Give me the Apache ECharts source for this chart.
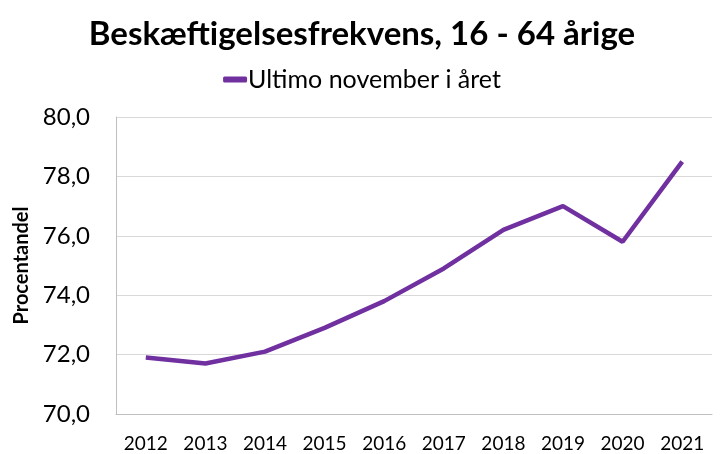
<!DOCTYPE html>
<html>
<head>
<meta charset="utf-8">
<script src="https://cdn.jsdelivr.net/npm/echarts@6/dist/echarts.min.js"></script>
<style>
html, body { margin: 0; padding: 0; background: #fff; }
#chart { width: 724px; height: 454px; }
</style>
</head>
<body>
<div id="chart"></div>
<script>
var years = ['2012', '2013', '2014', '2015', '2016', '2017', '2018', '2019', '2020', '2021'];
var rate = [71.9, 71.7, 72.1, 72.9, 73.8, 74.9, 76.2, 77.0, 75.8, 78.5];
var seriesName = 'Ultimo november i året';

var font = 'Lato, "Open Sans", sans-serif';

var option = {
    backgroundColor: '#fff',
    animation: false,
    title: {
        text: 'Beskæftigelsesfrekvens, 16 - 64 årige',
        left: 'center',
        top: 13,
        textStyle: { fontFamily: font, fontSize: 33, fontWeight: 'bold', color: '#000' }
    },
    legend: {
        data: [seriesName],
        top: 62,
        left: 'center',
        itemWidth: 24,
        itemHeight: 6,
        itemGap: 4,
        icon: 'roundRect',
        textStyle: { fontFamily: font, fontSize: 25, color: '#000', padding: [0, 0, 0, -4] }
    },
    grid: { left: 116, right: 12, top: 117, bottom: 40 },
    xAxis: {
        type: 'category',
        data: years,
        boundaryGap: true,
        axisLine: { show: true, lineStyle: { color: '#bfbfbf', width: 1 } },
        axisTick: { show: false },
        axisLabel: { fontFamily: font, fontSize: 19, color: '#000', margin: 20 }
    },
    yAxis: {
        type: 'value',
        min: 70,
        max: 80,
        interval: 2,
        name: 'Procentandel',
        nameLocation: 'middle',
        nameGap: 76,
        nameTextStyle: { fontFamily: font, fontSize: 20, fontWeight: 'bold', color: '#000' },
        axisLine: { show: true, lineStyle: { color: '#bfbfbf', width: 1 } },
        axisTick: { show: false },
        splitLine: { lineStyle: { color: '#d9d9d9', width: 1 } },
        axisLabel: {
            fontFamily: font, fontSize: 24, color: '#000', margin: 26,
            formatter: function (v) { return v.toFixed(1).replace('.', ','); }
        }
    },
    series: [{
        name: seriesName,
        type: 'line',
        data: rate,
        symbol: 'none',
        lineStyle: { color: '#7030a0', width: 4.5 },
        itemStyle: { color: '#7030a0' }
    }]
};

echarts.init(document.getElementById('chart')).setOption(option);
</script>
</body>
</html>
